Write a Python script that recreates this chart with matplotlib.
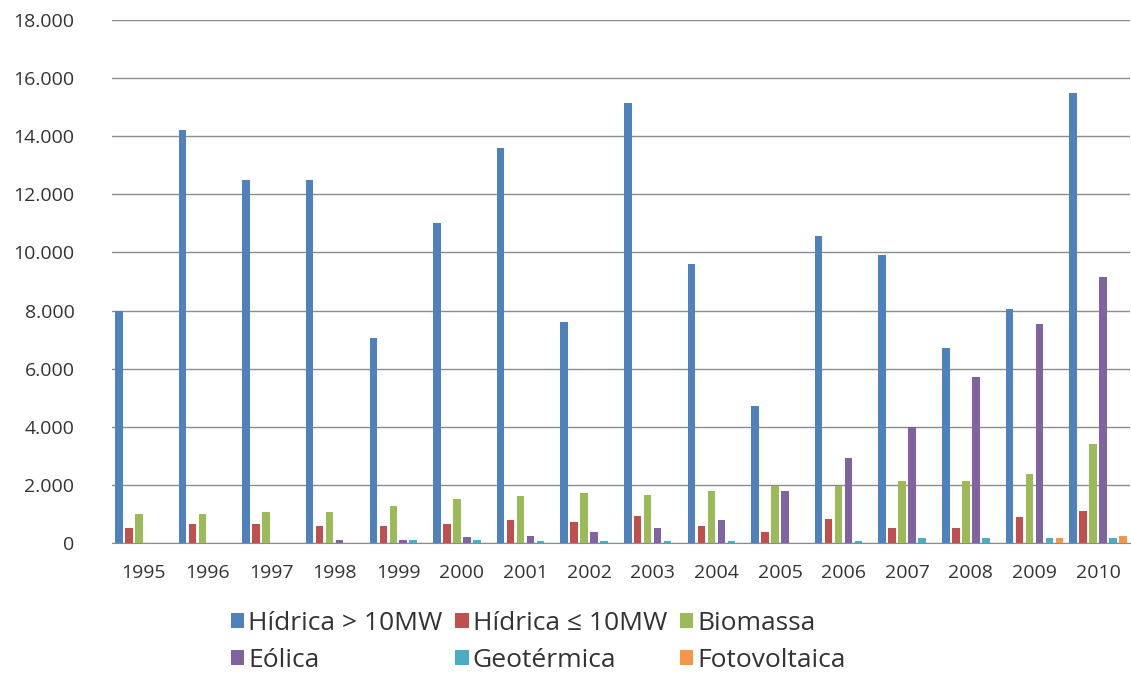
import numpy as np
import matplotlib.pyplot as plt
from matplotlib.patches import Patch
from matplotlib.ticker import FuncFormatter

plt.rcParams["font.family"] = ["Open Sans", "DejaVu Sans"]

years = [str(y) for y in range(1995, 2011)]
hidrica_gr = [8000, 14200, 12500, 12500, 7050, 11000, 13600, 7600,
              15150, 9600, 4700, 10550, 9900, 6720, 8070, 15490]
hidrica_pq = [520, 650, 650, 590, 590, 650, 790, 720,
              930, 590, 370, 840, 500, 500, 910, 1100]
biomassa = [1000, 1000, 1050, 1050, 1280, 1520, 1620, 1720,
            1660, 1800, 1960, 1960, 2120, 2120, 2390, 3400]
eolica = [0, 0, 0, 100, 100, 200, 250, 380,
          530, 780, 1790, 2930, 3980, 5700, 7520, 9150]
geotermica = [0, 0, 0, 0, 100, 100, 80, 80,
              80, 80, 0, 80, 160, 160, 160, 160]
fotovoltaica = [0, 0, 0, 0, 0, 0, 0, 0,
                0, 0, 0, 0, 0, 0, 160, 240]

labels = ["Hídrica > 10MW", "Hídrica \u2264 10MW", "Biomassa",
          "Eólica", "Geotérmica", "Fotovoltaica"]
colors = ["#4F81BD", "#C0504D", "#9BBB59", "#8064A2", "#4BACC6", "#F79646"]
series = [hidrica_gr, hidrica_pq, biomassa, eolica, geotermica, fotovoltaica]

fig = plt.figure(figsize=(11.31, 6.83), dpi=100)
ax = fig.add_axes([0.099, 0.205, 0.900, 0.7657])

x = np.arange(len(years))
pitch = 0.157
for i, (vals, c) in enumerate(zip(series, colors)):
    ax.bar(x + (i - 2.5) * pitch, vals, width=0.118, color=c, zorder=3)

ax.set_xlim(-0.5, len(years) - 0.5)
ax.set_ylim(0, 18000)
ax.set_yticks(np.arange(0, 18001, 2000))
ax.yaxis.set_major_formatter(FuncFormatter(lambda v, p: f"{int(v):,}".replace(",", ".")))
ax.set_xticks(x)
ax.set_xticklabels(years)
ax.grid(axis="y", color="#8c8c8c", linewidth=1.0, zorder=0)
for s in ["top", "right", "left"]:
    ax.spines[s].set_visible(False)
ax.spines["bottom"].set_color("#8c8c8c")
ax.tick_params(axis="y", length=0, pad=27, labelsize=14, labelcolor="#333333")
ax.tick_params(axis="x", length=0, pad=15, labelsize=14, labelcolor="#333333")

handles = [Patch(facecolor=c, label=l) for c, l in zip(colors, labels)]
order = [0, 3, 1, 4, 2, 5]
fig.legend([handles[i] for i in order], [labels[i] for i in order],
           ncol=3, loc="upper left", bbox_to_anchor=(0.204, 0.105),
           frameon=False, fontsize=19, handlelength=0.5, handleheight=0.5,
           handletextpad=0.15, columnspacing=0.5, labelspacing=0.45,
           borderaxespad=0, borderpad=0, labelcolor="#333333")

fig.savefig("out.png", dpi=100, facecolor="white")
